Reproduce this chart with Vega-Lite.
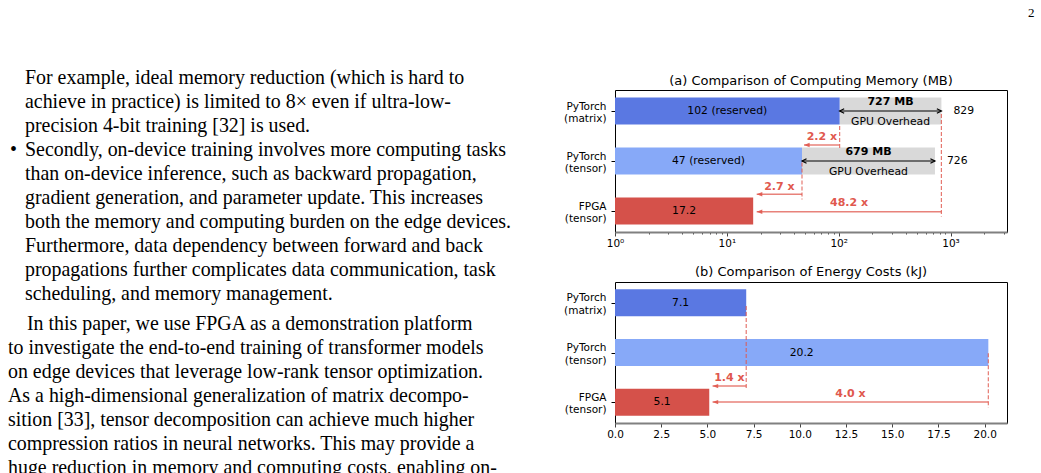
{
  "$schema": "https://vega.github.io/schema/vega-lite/v6.json",
  "padding": 0,
  "background": "white",
  "datasets": {
    "page": [
      {"line": 1, "indent": 1.25, "text": "For example, ideal memory reduction (which is hard to"},
      {"line": 2, "indent": 1.25, "text": "achieve in practice) is limited to 8× even if ultra-low-"},
      {"line": 3, "indent": 1.25, "text": "precision 4-bit training [32] is used."},
      {"line": 4, "indent": 0.5, "text": "•"},
      {"line": 4, "indent": 1.25, "text": "Secondly, on-device training involves more computing tasks"},
      {"line": 5, "indent": 1.25, "text": "than on-device inference, such as backward propagation,"},
      {"line": 6, "indent": 1.25, "text": "gradient generation, and parameter update. This increases"},
      {"line": 7, "indent": 1.25, "text": "both the memory and computing burden on the edge devices."},
      {"line": 8, "indent": 1.25, "text": "Furthermore, data dependency between forward and back"},
      {"line": 9, "indent": 1.25, "text": "propagations further complicates data communication, task"},
      {"line": 10, "indent": 1.25, "text": "scheduling, and memory management."},
      {"line": 11.29, "indent": 1.35, "text": "In this paper, we use FPGA as a demonstration platform"},
      {"line": 12.29, "indent": 0.4, "text": "to investigate the end-to-end training of transformer models"},
      {"line": 13.29, "indent": 0.4, "text": "on edge devices that leverage low-rank tensor optimization."},
      {"line": 14.29, "indent": 0.4, "text": "As a high-dimensional generalization of matrix decompo-"},
      {"line": 15.29, "indent": 0.4, "text": "sition [33], tensor decomposition can achieve much higher"},
      {"line": 16.29, "indent": 0.4, "text": "compression ratios in neural networks. This may provide a"},
      {"line": 17.29, "indent": 0.4, "text": "huge reduction in memory and computing costs, enabling on-"}
    ],
    "mem": [
      {"pos": 0, "device": "PyTorch (matrix)", "reserved": 102, "total": 829, "barText": "102 (reserved)", "overhead": "727 MB"},
      {"pos": 1, "device": "PyTorch (tensor)", "reserved": 47, "total": 726, "barText": "47 (reserved)", "overhead": "679 MB"},
      {"pos": 2, "device": "FPGA (tensor)", "reserved": 17.2, "barText": "17.2"}
    ],
    "memArrows": [
      {"from": 102, "to": 49, "y": 0.68, "ly": 0.514, "label": "2.2 x"},
      {"from": 47, "to": 18.5, "y": 1.666, "ly": 1.514, "label": "2.7 x"},
      {"from": 829, "to": 18.5, "y": 2.014, "ly": 1.846, "label": "48.2 x"}
    ],
    "memGuides": [
      {"x": 102, "y1": 0.3, "y2": 0.76},
      {"x": 829, "y1": 0.06, "y2": 2.11},
      {"x": 47, "y1": 1.03, "y2": 1.77}
    ],
    "energy": [
      {"pos": 0, "device": "PyTorch (matrix)", "kj": 7.1, "barText": "7.1"},
      {"pos": 1, "device": "PyTorch (tensor)", "kj": 20.2, "barText": "20.2"},
      {"pos": 2, "device": "FPGA (tensor)", "kj": 5.1, "barText": "5.1"}
    ],
    "energyArrows": [
      {"from": 7.1, "to": 5.28, "y": 1.677, "ly": 1.51, "label": "1.4 x"},
      {"from": 20.2, "to": 5.28, "y": 1.999, "ly": 1.84, "label": "4.0 x"}
    ],
    "energyGuides": [
      {"x": 7.1, "y1": 0.064, "y2": 1.757},
      {"x": 20.2, "y1": 1.017, "y2": 2.11}
    ]
  },
  "hconcat": [
    {
      "width": 540,
      "height": 473,
      "view": {"stroke": null},
      "data": {"name": "page"},
      "mark": {"type": "text", "align": "left", "baseline": "alphabetic", "font": "Liberation Serif", "fontSize": 19.9, "color": "black"},
      "encoding": {
        "x": {"field": "indent", "type": "quantitative", "scale": {"domain": [0, 27], "nice": false}, "axis": null},
        "y": {"field": "line", "type": "quantitative", "scale": {"domain": [1.27, 20.978], "nice": false, "zero": false, "reverse": true}, "axis": null},
        "text": {"field": "text"}
      }
    },
    {
      "title": {"text": ["", "2"], "anchor": "end", "font": "Liberation Serif", "fontSize": 13, "lineHeight": 7, "dx": 27, "offset": 54.5},
      "spacing": 16,
      "vconcat": [
        {
          "width": 392,
          "height": 142,
          "title": {"text": "(a) Comparison of Computing Memory (MB)", "offset": 2, "frame": "group"},
          "layer": [
            {
              "data": {"name": "mem"},
              "transform": [{"filter": "isValid(datum.total)"}],
              "mark": {"type": "bar", "orient": "horizontal", "size": 27, "color": "#d9d9d9"},
              "encoding": {
                "x": {"field": "reserved", "type": "quantitative", "title": null},
                "x2": {"field": "total"},
                "y": {"field": "pos", "type": "quantitative", "title": null}
              }
            },
            {
              "data": {"name": "mem"},
              "mark": {"type": "bar", "orient": "horizontal", "size": 27},
              "encoding": {
                "x": {
                  "field": "reserved", "type": "quantitative", "title": null,
                  "scale": {"type": "log", "domain": [1, 3200], "nice": false},
                  "axis": {
                    "values": [1, 2, 3, 4, 5, 6, 7, 8, 9, 10, 20, 30, 40, 50, 60, 70, 80, 90, 100, 200, 300, 400, 500, 600, 700, 800, 900, 1000, 2000, 3000],
                    "labelExpr": "datum.value == 1 ? '10⁰' : datum.value == 10 ? '10¹' : datum.value == 100 ? '10²' : datum.value == 1000 ? '10³' : ''",
                    "labelOverlap": false, "labelFlush": false, "labelPadding": 2,
                    "tickSize": {"condition": {"test": "indexof([1, 10, 100, 1000], datum.value) >= 0", "value": 4}, "value": 2},
                    "tickColor": "#444", "domainColor": "#808080", "domainWidth": 2
                  }
                },
                "x2": {"datum": 1},
                "y": {
                  "field": "pos", "type": "quantitative", "title": null,
                  "scale": {"domain": [-0.42, 2.42], "nice": false, "zero": false, "reverse": true, "padding": 0},
                  "axis": {
                    "values": [0, 1, 2],
                    "labelExpr": "datum.value == 0 ? ['PyTorch', '(matrix)'] : datum.value == 1 ? ['PyTorch', '(tensor)'] : ['FPGA', '(tensor)']",
                    "labelAlign": "right", "labelBaseline": "middle", "labelLineHeight": 12.5, "labelPadding": 5, "labelOffset": -5,
                    "tickSize": 4, "domain": false
                  }
                },
                "color": {
                  "field": "device", "type": "nominal", "legend": null,
                  "scale": {"domain": ["PyTorch (matrix)", "PyTorch (tensor)", "FPGA (tensor)"], "range": ["#5a78e2", "#87a9f8", "#d5514a"]}
                }
              }
            },
            {
              "data": {"name": "mem"},
              "transform": [{"calculate": "sqrt(datum.reserved)", "as": "mid"}],
              "mark": {"type": "text", "fontSize": 10.8, "color": "black"},
              "encoding": {
                "x": {"field": "mid", "type": "quantitative", "title": null},
                "y": {"field": "pos", "type": "quantitative", "title": null},
                "text": {"field": "barText"}
              }
            },
            {
              "data": {"name": "mem"},
              "transform": [{"filter": "isValid(datum.total)"}],
              "mark": {"type": "rule", "color": "black", "strokeWidth": 1.2},
              "encoding": {
                "x": {"field": "reserved", "type": "quantitative", "title": null},
                "x2": {"field": "total"},
                "y": {"field": "pos", "type": "quantitative", "title": null}
              }
            },
            {
              "data": {"name": "mem"},
              "transform": [{"filter": "isValid(datum.total)"}],
              "mark": {"type": "point", "shape": "M1.3,-0.65L0,0L1.3,0.65", "filled": false, "color": "black", "strokeWidth": 1.2, "size": 49, "opacity": 1},
              "encoding": {
                "x": {"field": "reserved", "type": "quantitative", "title": null},
                "y": {"field": "pos", "type": "quantitative", "title": null}
              }
            },
            {
              "data": {"name": "mem"},
              "transform": [{"filter": "isValid(datum.total)"}],
              "mark": {"type": "point", "shape": "M-1.3,-0.65L0,0L-1.3,0.65", "filled": false, "color": "black", "strokeWidth": 1.2, "size": 49, "opacity": 1},
              "encoding": {
                "x": {"field": "total", "type": "quantitative", "title": null},
                "y": {"field": "pos", "type": "quantitative", "title": null}
              }
            },
            {
              "data": {"name": "mem"},
              "transform": [{"filter": "isValid(datum.total)"}, {"calculate": "sqrt(datum.reserved * datum.total)", "as": "mid"}],
              "mark": {"type": "text", "fontSize": 11, "fontWeight": "bold", "color": "black", "dy": -9},
              "encoding": {
                "x": {"field": "mid", "type": "quantitative", "title": null},
                "y": {"field": "pos", "type": "quantitative", "title": null},
                "text": {"field": "overhead"}
              }
            },
            {
              "data": {"name": "mem"},
              "transform": [{"filter": "isValid(datum.total)"}, {"calculate": "sqrt(datum.reserved * datum.total)", "as": "mid"}],
              "mark": {"type": "text", "fontSize": 10.8, "color": "black", "dy": 11},
              "encoding": {
                "x": {"field": "mid", "type": "quantitative", "title": null},
                "y": {"field": "pos", "type": "quantitative", "title": null},
                "text": {"value": "GPU Overhead"}
              }
            },
            {
              "data": {"name": "mem"},
              "transform": [{"filter": "isValid(datum.total)"}],
              "mark": {"type": "text", "fontSize": 10.8, "color": "black", "align": "left", "dx": 12},
              "encoding": {
                "x": {"field": "total", "type": "quantitative", "title": null},
                "y": {"field": "pos", "type": "quantitative", "title": null},
                "text": {"field": "total"}
              }
            },
            {
              "data": {"name": "memGuides"},
              "mark": {"type": "rule", "color": "#e0584e", "opacity": 0.8, "strokeWidth": 1.2, "strokeDash": [4, 2]},
              "encoding": {
                "x": {"field": "x", "type": "quantitative", "title": null},
                "y": {"field": "y1", "type": "quantitative", "title": null},
                "y2": {"field": "y2"}
              }
            },
            {
              "data": {"name": "memArrows"},
              "mark": {"type": "rule", "color": "#e0584e", "opacity": 0.75, "strokeWidth": 1.5},
              "encoding": {
                "x": {"field": "from", "type": "quantitative", "title": null},
                "x2": {"field": "to"},
                "y": {"field": "y", "type": "quantitative", "title": null}
              }
            },
            {
              "data": {"name": "memArrows"},
              "mark": {"type": "point", "shape": "M0,0L1.4,-0.55L1.4,0.55Z", "filled": true, "color": "#e0584e", "size": 64, "opacity": 0.9},
              "encoding": {
                "x": {"field": "to", "type": "quantitative", "title": null},
                "y": {"field": "y", "type": "quantitative", "title": null}
              }
            },
            {
              "data": {"name": "memArrows"},
              "transform": [{"calculate": "sqrt(datum.from * datum.to)", "as": "mid"}],
              "mark": {"type": "text", "fontSize": 11, "fontWeight": "bold", "color": "#e0584e"},
              "encoding": {
                "x": {"field": "mid", "type": "quantitative", "title": null},
                "y": {"field": "ly", "type": "quantitative", "title": null},
                "text": {"field": "label"}
              }
            }
          ]
        },
        {
          "width": 392,
          "height": 141,
          "title": {"text": "(b) Comparison of Energy Costs (kJ)", "offset": 3, "frame": "group"},
          "layer": [
            {
              "data": {"name": "energy"},
              "mark": {"type": "bar", "orient": "horizontal", "size": 27},
              "encoding": {
                "x": {
                  "field": "kj", "type": "quantitative", "title": null,
                  "scale": {"domain": [0, 21.21], "nice": false},
                  "axis": {
                    "values": [0, 2.5, 5, 7.5, 10, 12.5, 15, 17.5, 20],
                    "format": ".1f", "labelFlush": false, "labelPadding": 2,
                    "tickSize": 4, "tickColor": "#444", "domainColor": "#808080", "domainWidth": 2
                  }
                },
                "x2": {"datum": 0},
                "y": {
                  "field": "pos", "type": "quantitative", "title": null,
                  "scale": {"domain": [-0.42, 2.42], "nice": false, "zero": false, "reverse": true, "padding": 0},
                  "axis": {
                    "values": [0, 1, 2],
                    "labelExpr": "datum.value == 0 ? ['PyTorch', '(matrix)'] : datum.value == 1 ? ['PyTorch', '(tensor)'] : ['FPGA', '(tensor)']",
                    "labelAlign": "right", "labelBaseline": "middle", "labelLineHeight": 12.5, "labelPadding": 5, "labelOffset": -5,
                    "tickSize": 4, "domain": false
                  }
                },
                "color": {
                  "field": "device", "type": "nominal", "legend": null,
                  "scale": {"domain": ["PyTorch (matrix)", "PyTorch (tensor)", "FPGA (tensor)"], "range": ["#5a78e2", "#87a9f8", "#d5514a"]}
                }
              }
            },
            {
              "data": {"name": "energy"},
              "transform": [{"calculate": "datum.kj / 2", "as": "mid"}],
              "mark": {"type": "text", "fontSize": 10.8, "color": "black"},
              "encoding": {
                "x": {"field": "mid", "type": "quantitative", "title": null},
                "y": {"field": "pos", "type": "quantitative", "title": null},
                "text": {"field": "barText"}
              }
            },
            {
              "data": {"name": "energyGuides"},
              "mark": {"type": "rule", "color": "#e0584e", "opacity": 0.8, "strokeWidth": 1.2, "strokeDash": [4, 2]},
              "encoding": {
                "x": {"field": "x", "type": "quantitative", "title": null},
                "y": {"field": "y1", "type": "quantitative", "title": null},
                "y2": {"field": "y2"}
              }
            },
            {
              "data": {"name": "energyArrows"},
              "mark": {"type": "rule", "color": "#e0584e", "opacity": 0.75, "strokeWidth": 1.5},
              "encoding": {
                "x": {"field": "from", "type": "quantitative", "title": null},
                "x2": {"field": "to"},
                "y": {"field": "y", "type": "quantitative", "title": null}
              }
            },
            {
              "data": {"name": "energyArrows"},
              "mark": {"type": "point", "shape": "M0,0L1.4,-0.55L1.4,0.55Z", "filled": true, "color": "#e0584e", "size": 64, "opacity": 0.9},
              "encoding": {
                "x": {"field": "to", "type": "quantitative", "title": null},
                "y": {"field": "y", "type": "quantitative", "title": null}
              }
            },
            {
              "data": {"name": "energyArrows"},
              "transform": [{"calculate": "(datum.from + datum.to) / 2", "as": "mid"}],
              "mark": {"type": "text", "fontSize": 11, "fontWeight": "bold", "color": "#e0584e"},
              "encoding": {
                "x": {"field": "mid", "type": "quantitative", "title": null},
                "y": {"field": "ly", "type": "quantitative", "title": null},
                "text": {"field": "label"}
              }
            }
          ]
        }
      ]
    }
  ],
  "spacing": 23,
  "config": {
    "font": "DejaVu Sans",
    "view": {"stroke": "black", "strokeWidth": 1},
    "axis": {"labelFont": "DejaVu Sans", "labelFontSize": 10.5, "labelColor": "black", "tickColor": "black", "grid": false, "domainColor": "black"},
    "title": {"font": "DejaVu Sans", "fontSize": 13, "fontWeight": "normal", "color": "black"}
  }
}
